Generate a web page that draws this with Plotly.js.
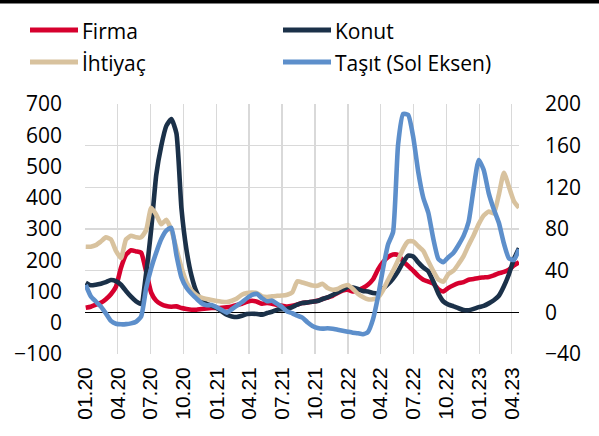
<!DOCTYPE html>
<html>
<head>
<meta charset="utf-8">
<script src="https://cdn.plot.ly/plotly-3.0.1.min.js"></script>
<style>html,body{margin:0;padding:0;background:#fff;}#chart{width:599px;height:436px;}</style>
</head>
<body>
<div id="chart"></div>
<script>
// Biweekly observations starting 2020-01-03
const startDate = '2020-01-03';
const stepDays = 14;

const seriesNames = ['Firma', 'Konut', 'İhtiyaç', 'Taşıt (Sol Eksen)'];

// Right axis (-40 .. 200)
const firma = [4.4,5.4,7.3,9.2,12.6,17.4,24.6,42.8,55.3,59.6,58.5,57.2,39,18.8,11.1,7.8,6,5.4,5.7,4.1,
 3.2,2.5,2.5,3.2,3.7,4.1,4.1,4.4,4.9,5.7,7,8.3,10.2,11.1,10.2,8.3,8.9,8.3,7,6.3,
 5.5,6.3,7.6,8.9,9.5,10.2,11.1,12.8,14.3,15.9,18.5,21,21.7,20.1,21,23.3,26.5,31.5,41,48,
 53,55.5,55,49,44.5,40,35,31.3,29.5,27.5,22,20,23.5,26,28,29,31.3,32,33,33.5,
 34,35.5,37.5,38.8,41,45,48];
const konut = [28.5,26,26.5,27.5,29,31,30,26.5,20.5,15,10.5,8,38,80,132,160,179,185.5,172,100,
 60,35,19.5,11.1,8.3,6.3,4.1,0.9,-2.3,-3.9,-4.5,-3.3,-1.6,-1.3,-1.6,-2.3,-0.7,0.6,2.5,3,
 3.5,5.1,7.3,8.9,9.5,10.2,10.8,12.8,14.3,16.6,19.1,21.7,24.3,23.9,22.4,20.4,20,18.5,18.2,22.5,
 27,32.5,39.5,48,54.5,53.5,48,43,39.5,29.6,18,10.4,7.4,5.8,3.9,2.2,2,3.3,5,6.2,
 8.6,11.6,15.9,25,36.6,51.3,61.5];
const ihtiyac = [63,63,64.5,68,72,70,59,52,70,73.5,72,72,79,100.3,93.7,84.5,88.9,79,61,43,
 29,21,16.4,14,12.8,11.8,10.8,10.2,9.9,11.1,13.3,16.9,18.5,19.1,18.5,15.3,14.7,15.3,15.9,16.1,
 16.9,19.1,29.7,28.7,27.2,25.8,25.5,27.5,23.3,21.7,22.4,24.9,26.2,22.7,17.9,14.7,12.5,12.5,14,21,
 31,40,50,61,68.1,68.1,63.5,59,49,39.5,31.5,29.5,37,40,46.5,54,64.5,74,84.7,93,
 96.7,95,113,134,120.5,106.5,100.3];
// Left axis (-100 .. 700)
const tasit = [121,85,68,52,30,6,-3,-5,-4.5,-2,3,20,111,175,225,268,295,304,217,145,
 112,93,77,62.4,56,57,49.6,41,32.3,43.2,54.7,65.6,78.4,89,92.2,78.4,68.8,70.7,60.2,50,
 36,30.4,22.7,16.3,1.6,-10.2,-16.6,-18.9,-17.6,-18.9,-22.1,-25.3,-28.5,-31.7,-33.6,-36.8,-30,10,82,172,
 250,290,570,668,665,595,483,400,352,268,204,194,210,224,249,278,323,430,521,489,
 414,363,320,254,206,201,235];

const colors = ['#D6002E', '#1B3149', '#D8C29E', '#5D8FCB'];

function buildDates(start, step, n) {
  const out = [];
  const d0 = new Date(start + 'T00:00:00Z');
  for (let i = 0; i < n; i++) {
    const d = new Date(d0.getTime() + i * step * 86400000);
    out.push(d.toISOString().slice(0, 10));
  }
  return out;
}
const dates = buildDates(startDate, stepDays, firma.length);

const values = [firma, konut, ihtiyac, tasit];
const axes = ['y', 'y', 'y', 'y2'];
const traces = values.map((v, k) => ({
  type: 'scatter', mode: 'lines', name: seriesNames[k], showlegend: false,
  x: dates, y: v, yaxis: axes[k],
  line: {color: colors[k], width: 4.6, shape: 'spline', smoothing: 0.5}
}));

const W = 599, H = 436, mL = 85, mR = 80, mT = 104, mB = 82;
const plotW = W - mL - mR, plotH = H - mT - mB;
const gridCol = '#D9D9D9';
const px2x = p => (p - mL) / plotW;
const py2y = p => 1 + (mT - p) / plotH;

// Manual two-column legend (pixel anchors)
const legendSlots = [
  {lx: 30, ly: 30}, {lx: 283, ly: 30},
  {lx: 30, ly: 62}, {lx: 283, ly: 62}
];
const legendShapes = legendSlots.map((s, k) => ({
  type: 'line', xref: 'paper', yref: 'paper', layer: 'above',
  x0: px2x(s.lx), x1: px2x(s.lx + 48), y0: py2y(s.ly), y1: py2y(s.ly),
  line: {color: colors[k], width: 5}
}));
const legendTexts = legendSlots.map((s, k) => ({
  xref: 'paper', yref: 'paper', x: px2x(s.lx + 50), y: py2y(s.ly + 1),
  xanchor: 'left', yanchor: 'middle', showarrow: false,
  text: seriesNames[k],
  font: {family: 'Open Sans', size: 21, color: '#000'}
}));

const layout = {
  width: W, height: H,
  margin: {l: mL, r: mR, t: mT, b: mB, pad: 0},
  paper_bgcolor: '#fff', plot_bgcolor: '#fff',
  font: {family: 'Open Sans', color: '#000', size: 20},
  showlegend: false,
  xaxis: {
    type: 'date', range: ['2020-01-01', '2023-04-21'],
    tick0: '2020-01-01', dtick: 'M3', tickformat: '%m.%y', tickangle: -90,
    showgrid: true, gridcolor: gridCol, gridwidth: 1.3,
    zeroline: false, showline: false, ticks: '',
    ticklabelstandoff: 8,
    tickfont: {family: 'Liberation Sans', size: 21, color: '#000'},
    automargin: false, fixedrange: true
  },
  yaxis: {
    side: 'right', range: [-40, 200], tick0: 0, dtick: 40,
    showgrid: true, gridcolor: gridCol, gridwidth: 1.3,
    zeroline: true, zerolinecolor: '#000', zerolinewidth: 1,
    showline: false, ticks: '', ticklabelstandoff: 25,
    tickfont: {family: 'Open Sans', size: 21, color: '#000'},
    automargin: false, fixedrange: true
  },
  yaxis2: {
    overlaying: 'y', side: 'left', range: [-100, 700], tick0: 0, dtick: 100,
    showgrid: false, zeroline: false, showline: false, ticks: '',
    ticklabelstandoff: 22,
    tickfont: {family: 'Open Sans', size: 21, color: '#000'},
    automargin: false, fixedrange: true
  },
  annotations: legendTexts,
  shapes: [{
    type: 'rect', xref: 'paper', yref: 'paper', layer: 'above',
    x0: px2x(0), x1: px2x(W),
    y0: py2y(3.5), y1: py2y(0),
    fillcolor: '#000', line: {width: 0}
  }].concat(legendShapes)
};

Plotly.newPlot('chart', traces, layout, {staticPlot: true, displayModeBar: false});
</script>
</body>
</html>
